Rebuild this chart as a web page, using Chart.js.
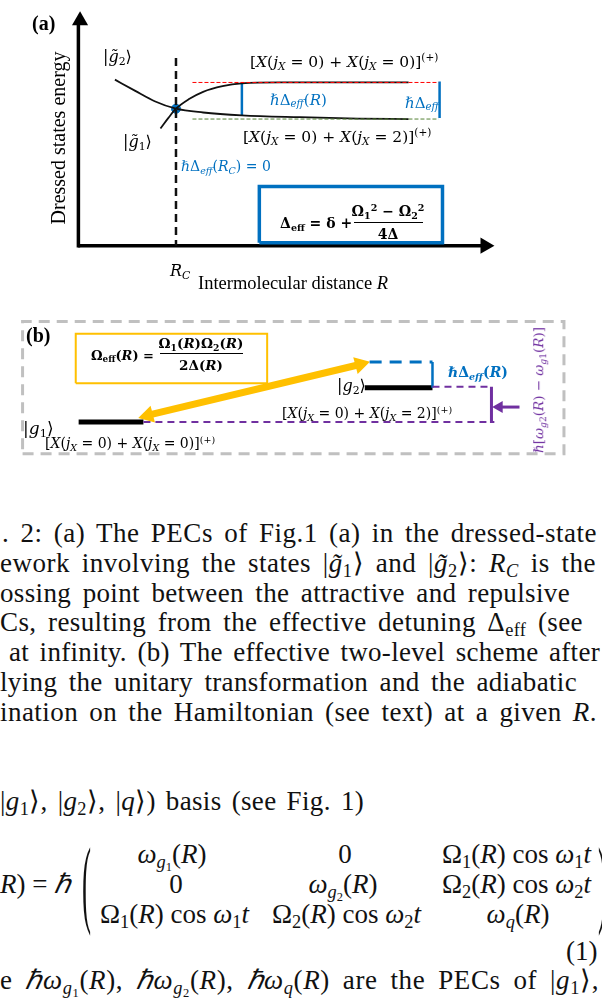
<!DOCTYPE html>
<html>
<head>
<meta charset="utf-8">
<script src="https://cdn.jsdelivr.net/npm/chart.js@4.4.1/dist/chart.umd.min.js"></script>
<style>
html,body{margin:0;padding:0;background:#fff;}
body{width:602px;height:1001px;position:relative;overflow:hidden;}
canvas{position:absolute;left:0;}
.t{position:absolute;white-space:nowrap;line-height:1;transform:translate(0,-50%);}
.c{transform:translate(-50%,-50%);}
.m{font-family:"DejaVu Serif",serif;}
.tm{font-family:"Liberation Serif","Times New Roman",serif;}
.blue{color:#0070c0;}
.purple{color:#7030a0;}
.bar{position:absolute;height:1px;background:#000;}
.ln{position:absolute;font-family:"Liberation Serif",serif;font-size:27px;line-height:30px;height:30px;white-space:nowrap;color:#111;}
.eq{position:absolute;font-family:"Liberation Serif",serif;font-size:27px;line-height:1;white-space:nowrap;transform:translate(0,-50%);color:#111;}
.par{position:absolute;font-family:"Liberation Serif",serif;font-size:27px;line-height:1;color:#111;transform:translate(0,-50%) scaleY(3.6);}
sub{font-size:68%;vertical-align:-0.28em;line-height:0;}
sup{font-size:68%;vertical-align:0.55em;line-height:0;}
</style>
</head>
<body>
<canvas id="chartA" width="602" height="300" style="top:0"></canvas>
<canvas id="chartB" width="602" height="170" style="top:300px"></canvas>

<!-- panel (a) text -->
<div class="t tm" style="left:32px;top:23px;font-size:20px;font-weight:bold">(a)</div>
<div class="t tm c" style="left:58px;top:138px;font-size:20px;transform:translate(-50%,-50%) rotate(-90deg)">Dressed states energy</div>
<div class="t m" style="left:103px;top:57px;font-size:16px">|<i>g̃</i><sub>2</sub>⟩</div>
<div class="t m" style="left:123px;top:142px;font-size:16px">|<i>g̃</i><sub>1</sub>⟩</div>
<div class="t m" style="left:250px;top:63px;font-size:15.5px">[<i>X</i>(<i>j</i><sub><i>X</i></sub> = 0) + <i>X</i>(<i>j</i><sub><i>X</i></sub> = 0)]<sup>(+)</sup></div>
<div class="t m blue" style="left:270px;top:100px;font-size:15px"><i>ℏ</i>Δ<sub><i>eff</i></sub>(<i>R</i>)</div>
<div class="t m blue" style="left:405px;top:103px;font-size:15px"><i>ℏ</i>Δ<sub><i>eff</i></sub></div>
<div class="t m" style="left:243px;top:138px;font-size:15.5px">[<i>X</i>(<i>j</i><sub><i>X</i></sub> = 0) + <i>X</i>(<i>j</i><sub><i>X</i></sub> = 2)]<sup>(+)</sup></div>
<div class="t m blue" style="left:181px;top:166px;font-size:14px"><i>ℏ</i>Δ<sub><i>eff</i></sub>(<i>R</i><sub><i>C</i></sub>) = 0</div>
<div class="t m" style="left:280px;top:223px;font-size:14px;font-weight:bold">Δ<sub>eff</sub> = δ +</div>
<div class="t m c" style="left:388px;top:211px;font-size:14px;font-weight:bold">Ω<sub>1</sub><sup>2</sup> − Ω<sub>2</sub><sup>2</sup></div>
<div class="bar" style="left:354px;top:222px;width:69px"></div>
<div class="t m c" style="left:388px;top:234px;font-size:14px;font-weight:bold">4Δ</div>
<div class="t m" style="left:170px;top:271px;font-size:16px"><i>R</i><sub><i>C</i></sub></div>
<div class="t tm" style="left:198px;top:283px;font-size:18.5px">Intermolecular distance <i>R</i></div>

<!-- panel (b) text -->
<div class="t tm" style="left:26px;top:335px;font-size:20px;font-weight:bold">(b)</div>
<div class="t m" style="left:91px;top:355px;font-size:13px;font-weight:bold">Ω<sub>eff</sub>(<i>R</i>) =</div>
<div class="t m c" style="left:201px;top:344px;font-size:13.5px;font-weight:bold">Ω<sub>1</sub>(<i>R</i>)Ω<sub>2</sub>(<i>R</i>)</div>
<div class="bar" style="left:160px;top:353px;width:83px"></div>
<div class="t m c" style="left:201px;top:366px;font-size:13.5px;font-weight:bold">2Δ(<i>R</i>)</div>
<div class="t m" style="left:23px;top:428px;font-size:17px">|<i>g</i><sub>1</sub>⟩</div>
<div class="t m" style="left:45px;top:443px;font-size:14px">[<i>X</i>(<i>j</i><sub><i>X</i></sub> = 0) + <i>X</i>(<i>j</i><sub><i>X</i></sub> = 0)]<sup>(+)</sup></div>
<div class="t m" style="left:337px;top:386px;font-size:16px">|<i>g</i><sub>2</sub>⟩</div>
<div class="t m" style="left:282px;top:413px;font-size:14px">[<i>X</i>(<i>j</i><sub><i>X</i></sub> = 0) + <i>X</i>(<i>j</i><sub><i>X</i></sub> = 2)]<sup>(+)</sup></div>
<div class="t m blue" style="left:448px;top:372px;font-size:14px;font-weight:bold"><i>ℏ</i>Δ<sub><i>eff</i></sub>(<i>R</i>)</div>
<div class="t m c purple" style="left:539px;top:390px;font-size:13.5px;transform:translate(-50%,-50%) rotate(-90deg)"><i>ℏ</i>[<i>ω</i><sub><i>g</i>2</sub>(<i>R</i>) − <i>ω</i><sub><i>g</i>1</sub>(<i>R</i>)]</div>

<!-- caption and page text -->
<div class="ln" data-w="595" style="left:2px;top:518px">. 2: (a) The PECs of Fig.1 (a) in the dressed-state</div>
<div class="ln" data-w="597" style="left:0px;top:548px">ework involving the states |<i>g̃</i><sub>1</sub>⟩ and |<i>g̃</i><sub>2</sub>⟩: <i>R</i><sub><i>C</i></sub> is the</div>
<div class="ln" data-w="570" style="left:0px;top:578px">ossing point between the attractive and repulsive</div>
<div class="ln" data-w="583" style="left:0px;top:607px">Cs, resulting from the effective detuning Δ<sub>eff</sub> (see</div>
<div class="ln" data-w="591" style="left:9px;top:637px">at infinity. (b) The effective two-level scheme after</div>
<div class="ln" data-w="577" style="left:0px;top:667px">lying the unitary transformation and the adiabatic</div>
<div class="ln" data-w="597" style="left:0px;top:697px">ination on the Hamiltonian (see text) at a given <i>R</i>.</div>

<div class="ln" data-w="364" style="left:0px;top:786px">|<i>g</i><sub>1</sub>⟩, |<i>g</i><sub>2</sub>⟩, |<i>q</i>⟩) basis (see Fig. 1)</div>
<div class="eq" style="left:0px;top:884px"><i>R</i>) = <i>ℏ</i></div>
<div class="par" style="left:82px;top:884px">(</div>
<div class="par" style="left:598px;top:884px">)</div>
<div class="eq" style="left:172px;top:854px;transform:translate(-50%,-50%)"><i>ω</i><sub><i>g</i><sub>1</sub></sub>(<i>R</i>)</div>
<div class="eq" style="left:345px;top:854px;transform:translate(-50%,-50%)">0</div>
<div class="eq" style="left:442px;top:854px">Ω<sub>1</sub>(<i>R</i>) cos <i>ω</i><sub>1</sub><i>t</i></div>
<div class="eq" style="left:176px;top:884px;transform:translate(-50%,-50%)">0</div>
<div class="eq" style="left:343px;top:884px;transform:translate(-50%,-50%)"><i>ω</i><sub><i>g</i><sub>2</sub></sub>(<i>R</i>)</div>
<div class="eq" style="left:442px;top:884px">Ω<sub>2</sub>(<i>R</i>) cos <i>ω</i><sub>2</sub><i>t</i></div>
<div class="eq" style="left:100px;top:914px">Ω<sub>1</sub>(<i>R</i>) cos <i>ω</i><sub>1</sub><i>t</i></div>
<div class="eq" style="left:272px;top:914px">Ω<sub>2</sub>(<i>R</i>) cos <i>ω</i><sub>2</sub><i>t</i></div>
<div class="eq" style="left:518px;top:914px;transform:translate(-50%,-50%)"><i>ω</i><sub><i>q</i></sub>(<i>R</i>)</div>
<div class="eq" style="left:566px;top:951px">(1)</div>
<div class="ln" data-w="599" style="left:0px;top:965px">e <i>ℏω</i><sub><i>g</i><sub>1</sub></sub>(<i>R</i>), <i>ℏω</i><sub><i>g</i><sub>2</sub></sub>(<i>R</i>), <i>ℏω</i><sub><i>q</i></sub>(<i>R</i>) are the PECs of |<i>g</i><sub>1</sub>⟩,</div>

<script>
// stretch each text line to its measured width: part letters, part word gaps
document.querySelectorAll('.ln').forEach(el => {
  const target = +el.dataset.w;
  const txt = el.textContent;
  const n = (txt.match(/ /g) || []).length;
  const extra = target - el.getBoundingClientRect().width;
  el.style.letterSpacing = (extra * 0.4 / txt.length) + 'px';
  if (n) el.style.wordSpacing = (extra * 0.6 / n) + 'px';
});

// ---- panel (a): dressed PECs, R and energy in arbitrary units ----
const rG2 = [3.6, 5.7, 7.7, 9.9, 12.7, 16.7, 22.7, 28.7, 33.9];
const eG2 = [17.7, 16.5, 15.4, 14.6, 14.2, 13.9, 13.7, 13.55, 13.5];
const rG1 = [8.3, 9.1, 9.9, 11.2, 12.7, 14.7, 16.7, 20.7, 33.9];
const eG1 = [12.5, 13.6, 14.6, 15.6, 16.4, 17.0, 17.3, 17.4, 17.4];
const rC = 9.9;
const eCross = 14.6;
const rCdash = [20, 0];
const eUpper = 17.4;
const eLower = 13.5;
const asymR = [11.6, 37.0];
const deltaR = [16.7, 37.1];
const deltaE = [[17.3, 13.9], [17.5, 13.6]];
const axisR = [0, 41.8];
const axisE = [0, 24.0];
const boxR = [18.5, 37.4];
const boxE = [0.3, 6.3];

// ---- panel (b): effective two-level scheme ----
const frameX = [1.3, 57.3];
const frameE = [0.7, 15.7];
const formulaBoxX = [6.8, 26.6];
const formulaBoxE = [8.7, 14.3];
const g1X = [7.1, 13.8];
const g1E = 4.3;
const g2X = [36.7, 43.7];
const g2E = 8.2;
const shiftedX = [37.2, 43.7];
const shiftedE = 11.1;
const gapX = 49.8;
const pumpX = [52.7, 49.9];
const pumpE = 6.0;
const couplingX = [13.3, 37.2];
const couplingE = [4.8, 11.1];

const BLUE = '#0070c0', PURPLE = '#7030a0', ORANGE = '#ffc000', GRAY = '#c0c0c0';

function pts(xs, ys) { return xs.map((x, i) => ({x: x, y: ys[i]})); }
function seg(xs, ys, color, width, dash) {
  return {data: pts(xs, ys), showLine: true, borderColor: color, borderWidth: width,
    borderDash: dash || [], pointRadius: 0, borderJoinStyle: 'miter'};
}
function rect(xr, yr, color, width, dash) {
  return seg([xr[0], xr[1], xr[1], xr[0], xr[0]], [yr[0], yr[0], yr[1], yr[1], yr[0]], color, width, dash);
}
function head(x, y, rot, r, color) {
  return {data: [{x: x, y: y}], pointStyle: 'triangle', pointRadius: r, pointRotation: rot,
    backgroundColor: color, borderColor: color, borderWidth: 0};
}
// arrow head centred back from the tip, units are 10 px in both panels
function arrowHeads(x0, y0, x1, y1, r, color, both) {
  const dx = x1 - x0, dy = y1 - y0, len = Math.hypot(dx, dy);
  const ux = dx / len, uy = dy / len, k = r / 10;
  const rot = Math.atan2(ux, uy) * 180 / Math.PI;
  const out = [head(x1 - ux * k, y1 - uy * k, rot, r, color)];
  if (both) out.push(head(x0 + ux * k, y0 + uy * k, rot + 180, r, color));
  return out;
}
function opts(xmin, xmax, ymin, ymax) {
  return {
    responsive: false, animation: false, devicePixelRatio: 1,
    layout: {padding: 0},
    plugins: {legend: {display: false}, tooltip: {enabled: false}},
    scales: {
      x: {type: 'linear', min: xmin, max: xmax, display: false},
      y: {type: 'linear', min: ymin, max: ymax, display: false}
    }
  };
}

const curveG2 = seg(rG2, eG2, '#111', 1.8);
curveG2.cubicInterpolationMode = 'monotone';
const curveG1 = seg(rG1, eG1, '#111', 1.8);
curveG1.cubicInterpolationMode = 'monotone';

new Chart(document.getElementById('chartA'), {
  type: 'scatter',
  data: {datasets: [
    rect(boxR, boxE, BLUE, 3.5),
    seg([rC, rC], rCdash, '#111', 2.5, [8, 5]),
    seg(asymR, [eUpper, eUpper], '#ff0000', 1, [4, 2]),
    seg(asymR, [eLower, eLower], '#548235', 1, [4, 2]),
    curveG2,
    curveG1,
    seg([deltaR[0], deltaR[0]], deltaE[0], BLUE, 2.5),
    seg([deltaR[1], deltaR[1]], deltaE[1], BLUE, 2.5),
    {data: [{x: rC, y: eCross}], pointRadius: 4.5, backgroundColor: BLUE, borderColor: BLUE},
    seg([-0.17, -0.17], [-0.2, axisE[1] - 0.4], '#000', 3.5),
    seg([-0.2, axisR[1] - 0.4], [0, 0], '#000', 3.5),
    head(0, axisE[1], 0, 9.3, '#000'),
    head(axisR[1], 0, 90, 9.3, '#000')
  ]},
  options: opts(-7.3, 52.9, -4.8, 25.2)
});

new Chart(document.getElementById('chartB'), {
  type: 'scatter',
  data: {datasets: [
    rect(frameX, frameE, GRAY, 3, [11, 7]),
    rect(formulaBoxX, formulaBoxE, ORANGE, 2),
    seg([g1X[1], gapX + 0.3], [g1E, g1E], PURPLE, 2, [7, 5]),
    seg([g2X[1], gapX], [g2E + 0.1, g2E + 0.1], PURPLE, 2, [7, 5]),
    seg([gapX, gapX], [g2E + 0.1, g1E - 0.1], PURPLE, 3),
    seg([pumpX[0], pumpX[1] + 0.6], [pumpE, pumpE], PURPLE, 3),
    ...arrowHeads(pumpX[0], pumpE, pumpX[1], pumpE, 7, PURPLE, false),
    seg(shiftedX, [shiftedE, shiftedE], BLUE, 3, [12, 8]),
    seg([shiftedX[1], shiftedX[1]], [shiftedE, g2E], BLUE, 2.5),
    seg(g1X, [g1E, g1E], '#000', 5),
    seg(g2X, [g2E, g2E], '#000', 5),
    seg([couplingX[0] + 0.9, couplingX[1] - 0.9], [couplingE[0] + 0.25, couplingE[1] - 0.25], ORANGE, 7),
    ...arrowHeads(couplingX[0], couplingE[0], couplingX[1], couplingE[1], 10, ORANGE, true)
  ]},
  options: opts(0, 60.2, 0, 17)
});
</script>
</body>
</html>
